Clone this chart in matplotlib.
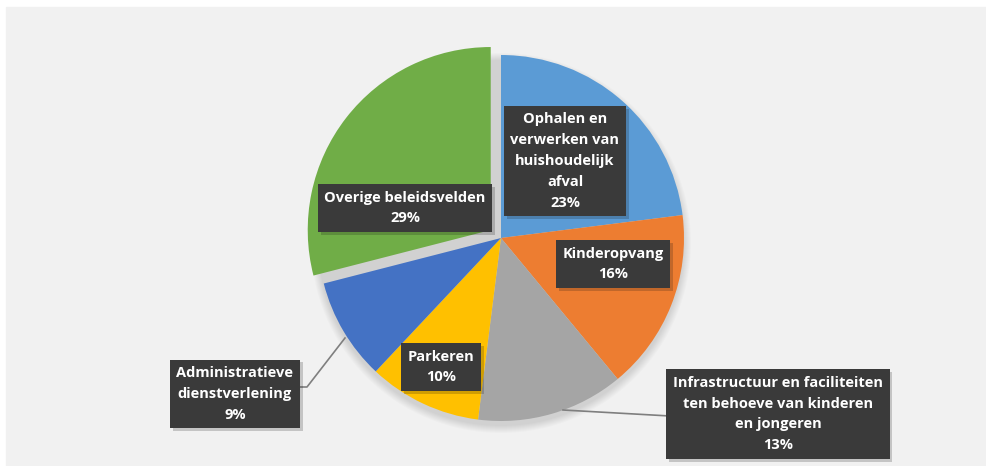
import matplotlib.pyplot as plt
import matplotlib.patheffects as pe
from matplotlib.patches import Circle

labels = ['Ophalen en\nverwerken van\nhuishoudelijk\nafval', 'Kinderopvang',
          'Infrastructuur en faciliteiten\nten behoeve van kinderen\nen jongeren',
          'Parkeren', 'Administratieve\ndienstverlening', 'Overige beleidsvelden']
shares = [23, 16, 13, 10, 9, 29]
colors = ['#5B9BD5', '#ED7D31', '#A5A5A5', '#FFC000', '#4472C4', '#70AD47']

# label centres in pixel coords (y from top)
label_pos = [(565, 161), (613, 264), (778, 414), (441, 367), (235, 394), (405, 208)]

W, H = 986, 466
fig = plt.figure(figsize=(W / 100, H / 100), dpi=100)
fig.patch.set_facecolor('white')
ax = fig.add_axes([0, 0, 1, 1])
ax.set_xlim(0, W)
ax.set_ylim(0, H)
ax.axis('off')

# grey chart area
ax.add_patch(plt.Rectangle((6, 0), W - 6, H - 7, color='#F1F1F1', zorder=0))

cx, cy, r = 501, H - 238, 183
explode = [0, 0, 0, 0, 0, 13]  # pie explode is in data units (pixels here)

# soft shadow under the pie
for i in range(8):
    ax.add_patch(Circle((cx, cy - 5), r + 7 - i, color='#000000', alpha=0.015, lw=0, zorder=1))

wedges, _ = ax.pie(shares, colors=colors, startangle=90, counterclock=False,
                   explode=explode, center=(cx, cy), radius=r,
                   wedgeprops=dict(linewidth=0))
for w in wedges:
    w.set_zorder(2)
ax.set_xlim(0, W)
ax.set_ylim(0, H)
ax.set_aspect('equal')

# leader lines
ax.plot([298, 307, 345], [H - 387, H - 387, H - 338], color='#7F7F7F', lw=1.2, zorder=3)
ax.plot([563, 670], [H - 410, H - 416], color='#7F7F7F', lw=1.2, zorder=3)

for lab, pct, (x, y) in zip(labels, shares, label_pos):
    t = ax.text(x, H - y, f'{lab}\n{pct}%', ha='center', va='center', color='white',
                fontsize=10.5, fontweight='bold', family='Open Sans', linespacing=1.62, zorder=5,
                bbox=dict(boxstyle='square,pad=0.45', facecolor='#3A3A3A', edgecolor='none'))
    t.get_bbox_patch().set_path_effects([pe.SimplePatchShadow(offset=(2, -2), alpha=0.2), pe.Normal()])

fig.savefig('out.png', dpi=100, facecolor='white')
